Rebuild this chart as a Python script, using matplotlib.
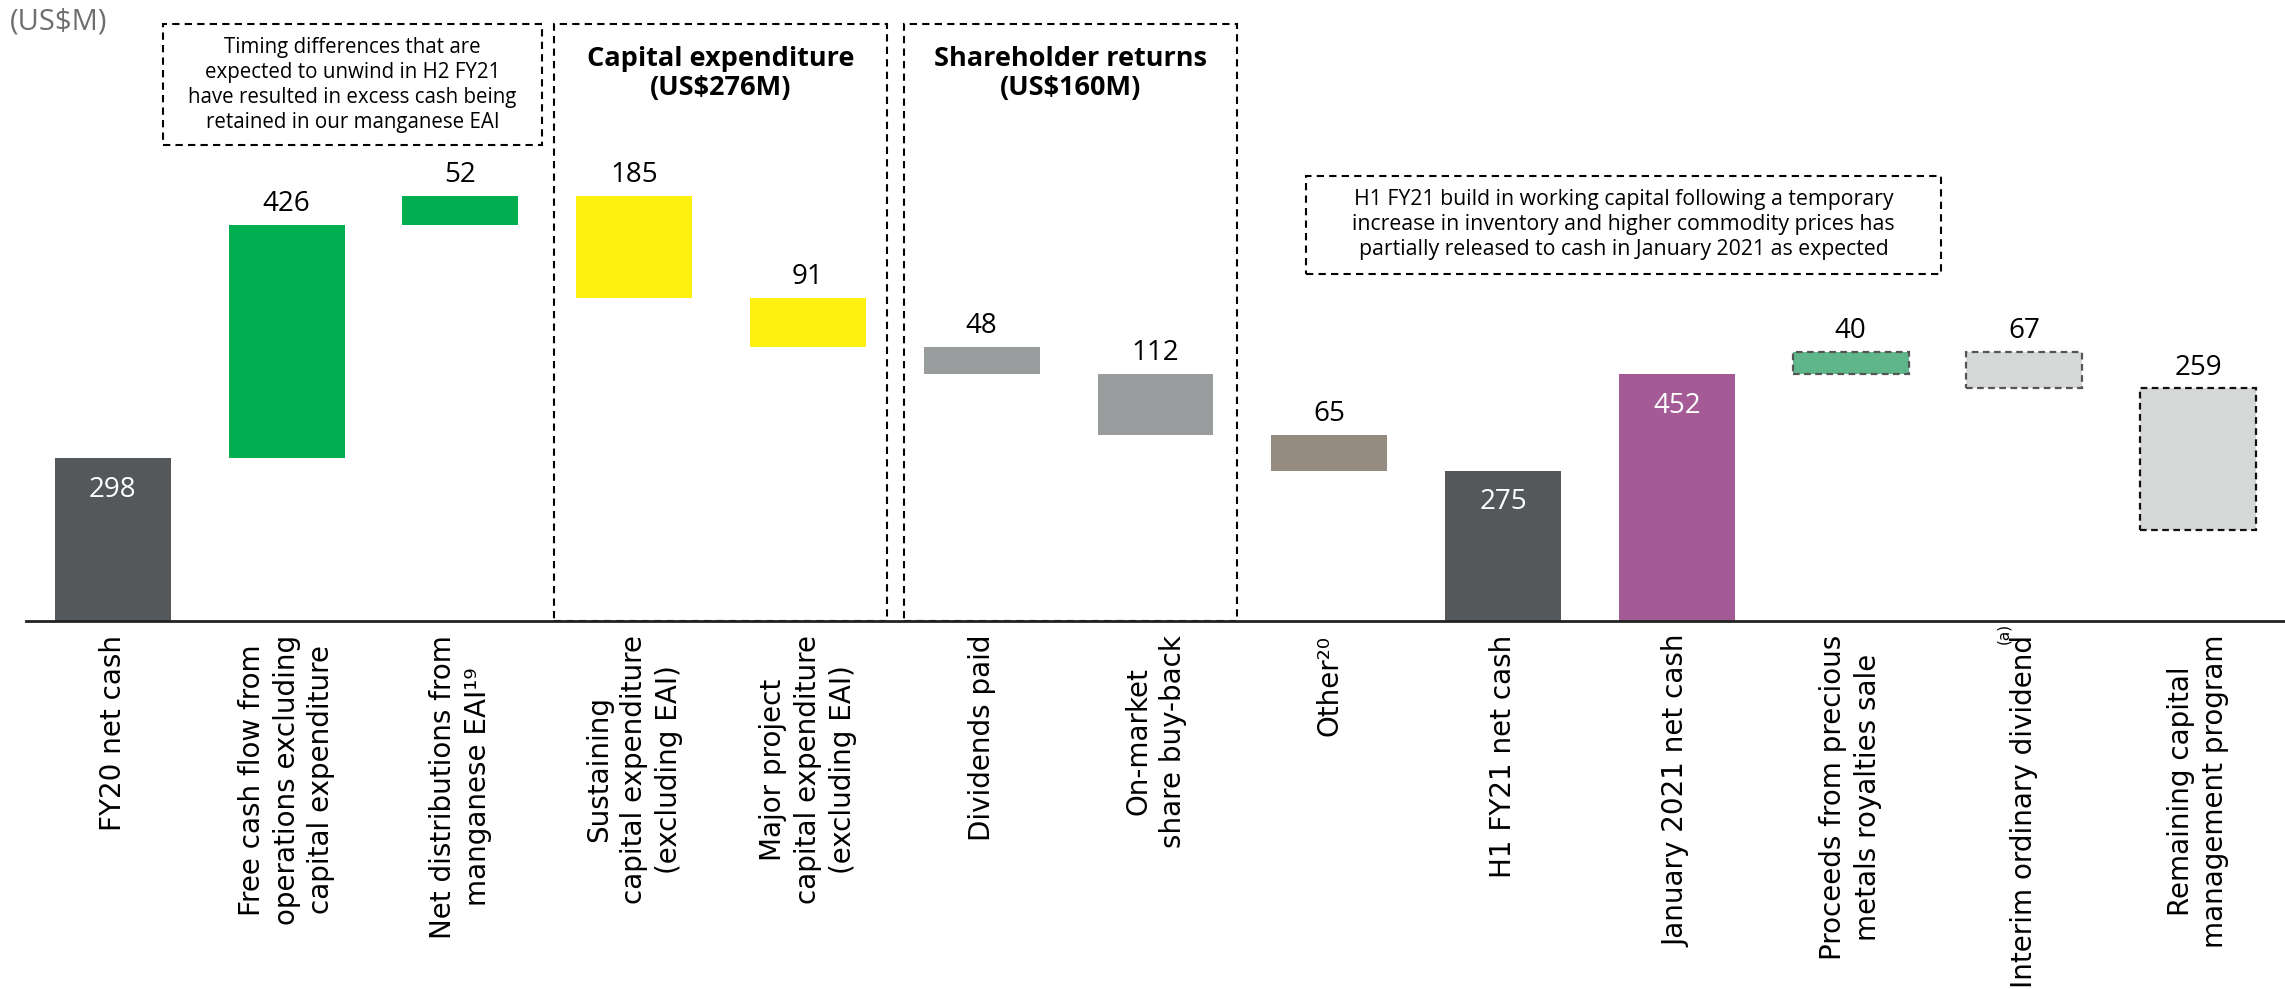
import matplotlib.pyplot as plt
from matplotlib.patches import Rectangle

# chart data
categories = [
    "FY20 net cash",
    "Free cash flow from\noperations excluding\ncapital expenditure",
    "Net distributions from\nmanganese EAI\u00b9\u2079",
    "Sustaining\ncapital expenditure\n(excluding EAI)",
    "Major project\ncapital expenditure\n(excluding EAI)",
    "Dividends paid",
    "On-market\nshare buy-back",
    "Other\u00b2\u2070",
    "H1 FY21 net cash",
    "January 2021 net cash",
    "Proceeds from precious\nmetals royalties sale",
    "Interim ordinary dividend",
    "Remaining capital\nmanagement program",
]
footnote_marks = {11: "(a)"}
values = [298, 426, 52, -185, -91, -48, -112, -65, 275, 452, 40, -67, -259]
is_total = [True, False, False, False, False, False, False, False, True, True, False, False, False]
colors = ["#54585a", "#00ae4f", "#00ae4f", "#fff10f", "#fff10f", "#9a9d9d", "#9a9d9d",
          "#968b81", "#54585a", "#a45a95", "#60b68b", "#d6d8d7", "#d6d8d7"]
edge_colors = [None] * 10 + ["#555555", "#555555", "#111111"]

box_texts = [
    "Timing differences that are\nexpected to unwind in H2 FY21\nhave resulted in excess cash being\nretained in our manganese EAI",
    "H1 FY21 build in working capital following a temporary\nincrease in inventory and higher commodity prices has\npartially released to cash in January 2021 as expected",
]
group_titles = ["Capital expenditure\n(US$276M)", "Shareholder returns\n(US$160M)"]

W, H = 2285, 989
fig = plt.figure(figsize=(W / 100, H / 100), dpi=100)
ax = fig.add_axes([26 / W, (H - 621) / H, 1 - 26 / W, 621 / H])
ax.set_xlim(-0.5, 12.5)
ax.set_ylim(0, 1135)

# waterfall bottoms / heights
bottoms, heights = [], []
running = 0
for v, tot in zip(values, is_total):
    if tot:
        bottoms.append(0)
        heights.append(v)
        running = v
    elif v >= 0:
        bottoms.append(running)
        heights.append(v)
        running += v
    else:
        running += v
        bottoms.append(running)
        heights.append(-v)

x = range(len(values))
for i in x:
    ec = edge_colors[i]
    ax.bar(i, heights[i], bottom=bottoms[i], width=0.667, color=colors[i],
           edgecolor=ec if ec else "none", linewidth=1.6 if ec else 0,
           linestyle=(0, (3, 2)) if ec else "-", zorder=2)
    top = bottoms[i] + heights[i]
    if is_total[i]:
        ax.annotate(str(abs(values[i])), (i, top), xytext=(0, -23), textcoords="offset points",
                    ha="center", va="center", color="white", fontsize=20, family="Open Sans")
    else:
        ax.annotate(str(abs(values[i])), (i, top), xytext=(0, 5), textcoords="offset points",
                    ha="center", va="bottom", color="black", fontsize=20, family="Open Sans")

# dashed boxes
dash = (0, (3.5, 2.5))
boxes = [(0.291, 870, 2.469, 1091), (2.538, 0, 4.455, 1091), (4.553, 0, 6.469, 1091),
         (6.866, 634, 10.52, 814)]
for x0, y0, x1, y1 in boxes:
    ax.add_patch(Rectangle((x0, y0), x1 - x0, y1 - y0, fill=False, edgecolor="black",
                           linewidth=1.5, linestyle=dash, clip_on=False, zorder=3))

ax.text((0.291 + 2.469) / 2, (870 + 1091) / 2, box_texts[0], ha="center", va="center",
        fontsize=14.8, family="Open Sans", linespacing=1.25)
ax.text((6.866 + 10.52) / 2, (634 + 814) / 2, box_texts[1], ha="center", va="center",
        fontsize=15.3, family="Open Sans", linespacing=1.25)
ax.text((2.538 + 4.455) / 2, 1000, group_titles[0].replace("$", "\\$"), ha="center", va="center",
        fontsize=19.5, fontweight="bold", family="Open Sans", linespacing=1.15)
ax.text((4.553 + 6.469) / 2, 1000, group_titles[1].replace("$", "\\$"), ha="center", va="center",
        fontsize=19.5, fontweight="bold", family="Open Sans", linespacing=1.15)

fig.text(10 / W, 1 - 22 / H, "(US\\$M)", ha="left", va="center", fontsize=21,
         color="#6d6e70", family="Open Sans")

# axes styling
for s in ["top", "right", "left"]:
    ax.spines[s].set_visible(False)
ax.spines["bottom"].set_linewidth(2)
ax.spines["bottom"].set_color("#222222")
ax.spines["bottom"].set_zorder(4)
ax.set_yticks([])
ax.set_xticks(list(x))
ax.set_xticklabels(categories, rotation=90, fontsize=20, linespacing=1.3,
                   family="DejaVu Sans", ha="center", va="top")
ax.tick_params(axis="x", length=0, pad=10)

# small footnote mark next to a tick label
for i, mark in footnote_marks.items():
    ax.annotate(mark, (i, 0), xytext=(-21, -12), textcoords="offset pixels", rotation=90,
                ha="center", va="center", fontsize=11, family="DejaVu Sans",
                annotation_clip=False)

fig.savefig("out.png", dpi=100)
